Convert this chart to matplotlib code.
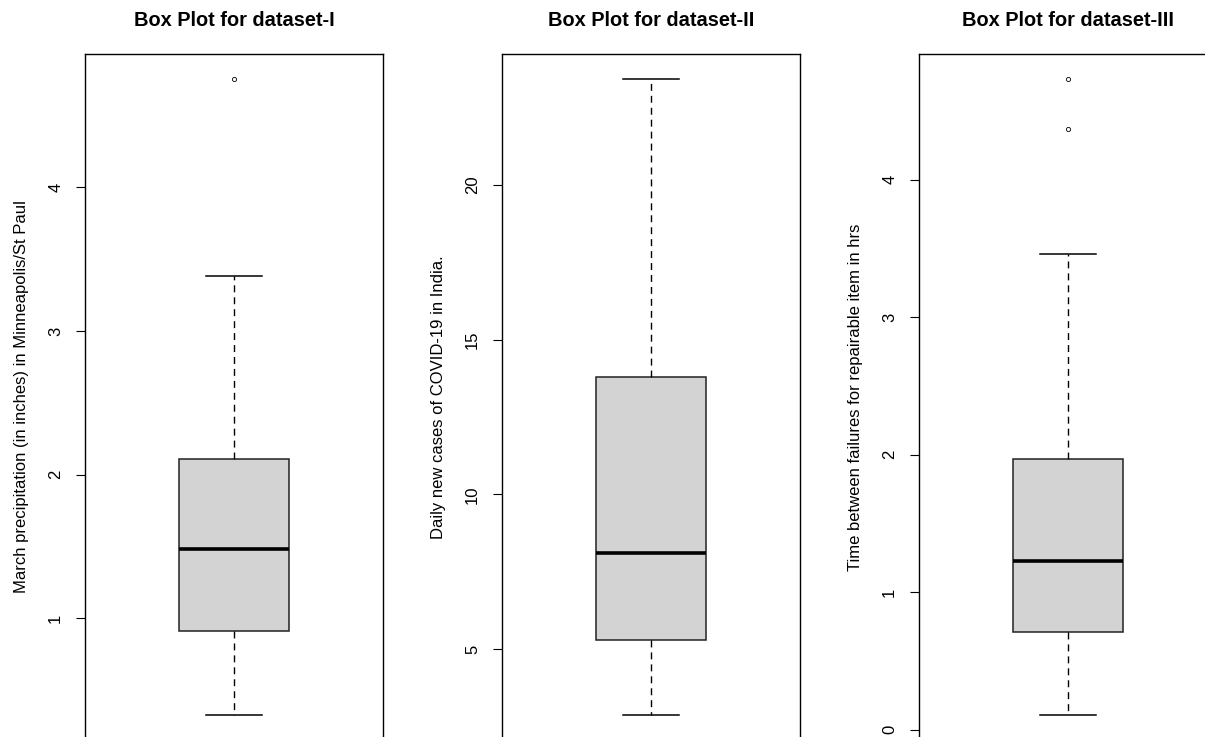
import matplotlib
matplotlib.use("Agg")
import matplotlib.pyplot as plt

plt.rcParams['font.family'] = ['Liberation Sans', 'DejaVu Sans']

titles = ['Box Plot for dataset-I', 'Box Plot for dataset-II', 'Box Plot for dataset-III']
ylabels = ['March precipitation (in inches) in Minneapolis/St Paul',
           'Daily new cases of COVID-19 in India.',
           'Time between failures for repairable item in hrs']

# five-number summaries
whislo = [0.33, 2.88, 0.11]
q1 = [0.91, 5.30, 0.71]
med = [1.48, 8.12, 1.23]
q3 = [2.11, 13.80, 1.97]
whishi = [3.38, 23.42, 3.46]
fliers = [[4.75], [], [4.37, 4.73]]

yticks = [[1, 2, 3, 4], [5, 10, 15, 20], [0, 1, 2, 3, 4]]

W, H = 1205, 737
fig = plt.figure(figsize=(W / 100, H / 100), dpi=100)

lefts = [85, 502, 919]
for i in range(3):
    ax = fig.add_axes([lefts[i] / W, (H - 740) / H, 298 / W, (740 - 54) / H])
    stats = [dict(whislo=whislo[i], q1=q1[i], med=med[i], q3=q3[i],
                  whishi=whishi[i], fliers=fliers[i])]
    ax.bxp(stats, positions=[1], widths=0.4, capwidths=0.2, patch_artist=True,
           boxprops=dict(facecolor='#d3d3d3', edgecolor='#222222', linewidth=1.1),
           medianprops=dict(color='black', linewidth=2.6, solid_capstyle='butt'),
           whiskerprops=dict(color='black', linewidth=1.0, linestyle=(0, (5, 3.6))),
           capprops=dict(color='black', linewidth=1.1),
           flierprops=dict(marker='o', markersize=3, markerfacecolor='none',
                           markeredgecolor='black', markeredgewidth=0.6))
    lo = min([whislo[i]] + fliers[i])
    hi = max([whishi[i]] + fliers[i])
    pad = 0.04 * (hi - lo)
    ax.set_ylim(lo - pad, hi + pad)
    ax.set_xlim(0.46, 1.54)
    ax.set_xticks([])
    ax.set_yticks(yticks[i])
    ax.tick_params(axis='y', length=6.7, width=0.8, pad=9, labelsize=12,
                   labelrotation=90)
    for lab in ax.get_yticklabels():
        lab.set_va('center')
    for s in ax.spines.values():
        s.set_linewidth(1.0)
    ax.set_title(titles[i], fontsize=14.4, fontweight='bold', pad=20.5)
    ax.set_ylabel(ylabels[i], fontsize=12, labelpad=14)

fig.savefig('out.png', dpi=100)
